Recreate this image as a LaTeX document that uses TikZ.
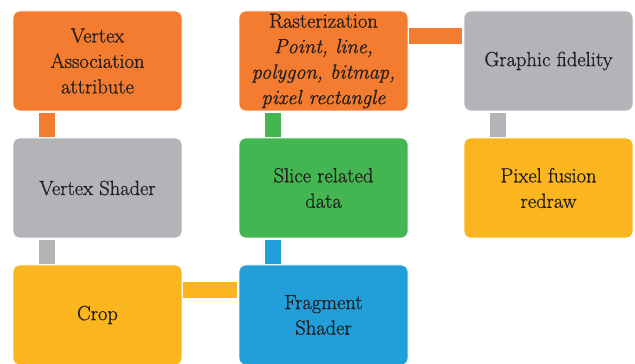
\documentclass[tikz,border=0pt]{standalone}
\usepackage{fontspec}
\setmainfont{Latin Modern Roman}[FakeBold=0.9]
\definecolor{corange}{HTML}{F47C30}
\definecolor{cgray}{HTML}{B3B4B8}
\definecolor{cgreen}{HTML}{43B651}
\definecolor{cblue}{HTML}{229ED9}
\definecolor{cyellow}{HTML}{FBB51F}
\definecolor{ctext}{HTML}{231F20}
\begin{document}
\begin{tikzpicture}[x=1pt,y=1pt,
  box/.style={rectangle, rounded corners=7pt, minimum width=169pt, minimum height=100pt,
    inner sep=0pt, align=center, text=ctext, font=\rmfamily\fontsize{20.5}{25.5}\selectfont, draw=white, line width=0.6pt},
  conn/.style={line width=16pt, line cap=butt}]
\useasboundingbox (0,0) rectangle (635,364);
\clip (0,0) rectangle (635,364);
\node[box, fill=corange] (va) at (97.5,303) {Vertex\\Association\\attribute};
\node[box, fill=corange] (ra) at (323.5,303) {Rasterization\\\itshape Point, line,\\\itshape polygon, bitmap,\\\itshape pixel rectangle};
\node[box, fill=cgray] (gf) at (548.5,303) {Graphic fidelity};
\node[box, fill=cgray] (vs) at (97.5,176) {Vertex Shader};
\node[box, fill=cgreen] (sl) at (323.5,176) {Slice related\\data};
\node[box, fill=cyellow] (pf) at (548.5,176) {Pixel fusion\\redraw};
\node[box, fill=cyellow] (cr) at (97.5,49) {Crop};
\node[box, fill=cblue] (fs) at (323.5,49) {Fragment\\Shader};
\draw[conn, corange] ([shift={(34,-2)}]va.south west) -- ([shift={(34,1)}]vs.north west);
\draw[conn, cgreen] ([shift={(34,-2)}]ra.south west) -- ([shift={(34,1)}]sl.north west);
\draw[conn, cgray] ([shift={(34,-2)}]gf.south west) -- ([shift={(34,1)}]pf.north west);
\draw[conn, cgray] ([shift={(34,-2)}]vs.south west) -- ([shift={(34,1)}]cr.north west);
\draw[conn, cblue] ([shift={(34,-2)}]sl.south west) -- ([shift={(34,1)}]fs.north west);
\draw[conn, corange] ([shift={(0.5,-25)}]ra.north east) -- ([shift={(-1.5,-25)}]gf.north west);
\draw[conn, cyellow] ([shift={(1,-25)}]cr.north east) -- ([shift={(-1.5,-25)}]fs.north west);
\end{tikzpicture}
\end{document}
